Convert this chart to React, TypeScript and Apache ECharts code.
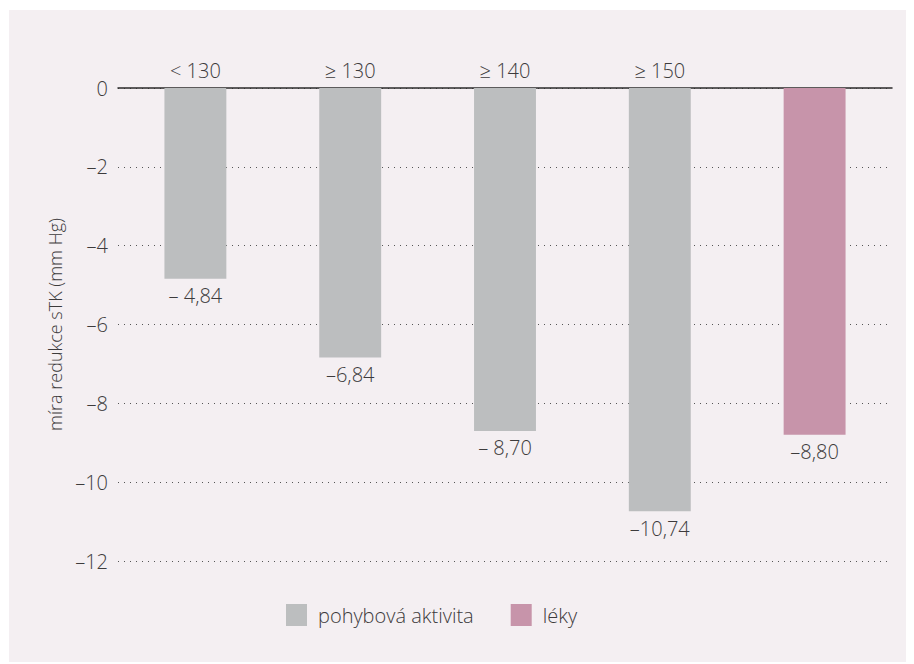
import React, { useEffect, useRef } from "react";
import * as echarts from "echarts";

const categories = ["< 130", "≥ 130", "≥ 140", "≥ 150", ""];
const activityValues: (number | string)[] = [-4.84, -6.84, -8.7, -10.74, "-"];
const drugValues: (number | string)[] = ["-", "-", "-", "-", -8.8];
const valueLabels = ["– 4,84", "–6,84", "– 8,70", "–10,74", "–8,80"];
const seriesNames = ["pohybová aktivita", "léky"];

const FONT = "'Open Sans', 'Noto Sans', sans-serif";
const TEXT = "#3d3b3c";

export default function App() {
  const ref = useRef<HTMLDivElement>(null);
  useEffect(() => {
    if (!ref.current) return;
    const chart = echarts.init(ref.current, null, { renderer: "svg" });
    const labelCfg = {
      show: true,
      position: "bottom" as const,
      distance: 7,
      color: TEXT,
      fontFamily: FONT,
      fontSize: 20,
      fontWeight: 300 as any,
      formatter: (p: any) => valueLabels[p.dataIndex],
    };
    chart.setOption({
      animation: false,
      backgroundColor: "#f4eff2",
      textStyle: { fontFamily: FONT },
      grid: { left: 109, right: 22, top: 78, bottom: 103, containLabel: false },
      legend: {
        left: 277,
        top: 594,
        padding: 0,
        itemWidth: 21,
        itemHeight: 22,
        itemGap: 37,
        icon: "rect",
        textStyle: { color: TEXT, fontSize: 20, fontFamily: FONT, fontWeight: 300 as any, padding: [0, 0, 0, 6] },
        data: seriesNames,
      },
      xAxis: {
        type: "category",
        position: "top",
        data: categories,
        axisLine: { show: true, lineStyle: { color: "#2a2a2a", width: 1.5 } },
        axisTick: { show: false },
        axisLabel: { color: TEXT, fontSize: 20, fontFamily: FONT, fontWeight: 300 as any, margin: 8 },
        splitLine: { show: false },
      },
      yAxis: {
        type: "value",
        min: -12,
        max: 0,
        interval: 2,
        name: "míra redukce sTK (mm Hg)",
        nameLocation: "middle",
        nameGap: 50,
        nameTextStyle: { color: TEXT, fontSize: 18, fontFamily: FONT, fontWeight: 300 as any },
        axisLine: { show: false },
        axisTick: { show: false },
        axisLabel: {
          color: TEXT,
          fontSize: 20,
          fontFamily: FONT,
          fontWeight: 300 as any,
          margin: 10,
          formatter: (v: number) => (v === 0 ? "0" : "–" + Math.abs(v)),
        },
        splitLine: {
          show: true,
          lineStyle: { color: "#555", type: [1, 5], width: 1 },
        },
      },
      series: [
        {
          name: seriesNames[0],
          type: "bar",
          stack: "s",
          barWidth: "40%",
          data: activityValues,
          itemStyle: { color: "#bcbebf" },
          label: labelCfg,
          z: 3,
        },
        {
          name: seriesNames[1],
          type: "bar",
          stack: "s",
          barWidth: "40%",
          data: drugValues,
          itemStyle: { color: "#c794aa" },
          label: labelCfg,
          z: 3,
        },
      ],
    });
    return () => chart.dispose();
  }, []);
  return (
    <div
      ref={ref}
      style={{ position: "relative", left: 1, top: 2, width: 905, height: 654 }}
    />
  );
}
